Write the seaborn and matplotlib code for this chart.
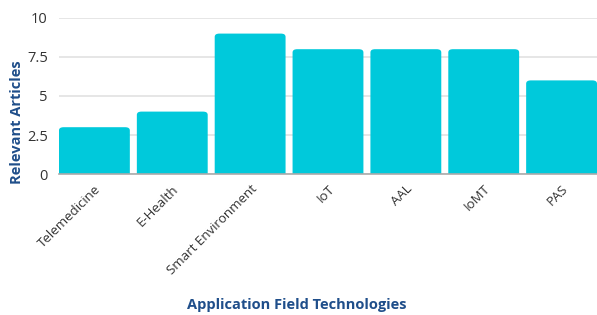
import numpy as np
import pandas as pd

import matplotlib
matplotlib.use("Agg")
import matplotlib.pyplot as plt
import seaborn as sns
from matplotlib.patches import FancyBboxPatch

fields = ["Telemedicine", "E-Health", "Smart Environment", "IoT", "AAL", "IoMT", "PAS"]
articles = [3, 4, 9, 8, 8, 8, 6]
y_ticks = [0, 2.5, 5, 7.5, 10]
y_tick_labels = ["0", "2.5", "5", "7.5", "10"]

bar_color = "#00C9DB"
label_color = "#1F4E8A"

sns.set_theme(style="white")
plt.rcParams['font.family'] = ['Open Sans', 'DejaVu Sans']

ds = pd.DataFrame({"field": fields, "articles": articles})

fig = plt.figure(figsize=(5.97, 3.15), dpi=100)
ax = fig.add_axes([0.0988, 0.4476, 0.9012, 0.4953])
sns.barplot(data=ds, x="field", y="articles", color=bar_color, width=0.91,
            saturation=1, ax=ax, zorder=3)

# swap plain bars for ones with rounded top corners (bottom is clipped below 0)
for p in list(ax.patches):
    x0, y0 = p.get_x(), p.get_y()
    w, h = p.get_width(), p.get_height()
    rb = FancyBboxPatch((x0, y0 - 0.5), w, h + 0.5, boxstyle="round,pad=0,rounding_size=0.06",
                        mutation_aspect=3.4, facecolor=bar_color, edgecolor="none", zorder=3)
    p.remove()
    ax.add_patch(rb)

ax.set_xlim(-0.455, 6.455)
ax.set_ylim(0, 10)
ax.set_yticks(y_ticks)
ax.set_yticklabels(y_tick_labels, fontsize=10.5, color="#333333")
ax.yaxis.grid(True, color="#e2e2e2", linewidth=1.2, zorder=0)
ax.tick_params(axis="both", length=0, pad=8)
ax.set_xticks(range(len(fields)))
ax.set_xticklabels(fields, rotation=45, ha="right", rotation_mode="anchor",
                   fontsize=9.5, color="#333333")
ax.tick_params(axis="x", pad=6)

for s in ["top", "right", "left"]:
    ax.spines[s].set_visible(False)
ax.spines["bottom"].set_color("#aaaaaa")
ax.spines["bottom"].set_linewidth(1.2)
ax.spines["bottom"].set_zorder(4)

ax.set_xlabel("")
ax.set_ylabel("Relevant Articles", fontsize=10.5, fontweight="bold", color=label_color)
ax.yaxis.set_label_coords(-0.065, 0.33)
fig.text(0.497, 0.01, "Application Field Technologies", ha="center", va="bottom",
         fontsize=10.5, fontweight="bold", color=label_color)

plt.savefig("out.png", dpi=100)
